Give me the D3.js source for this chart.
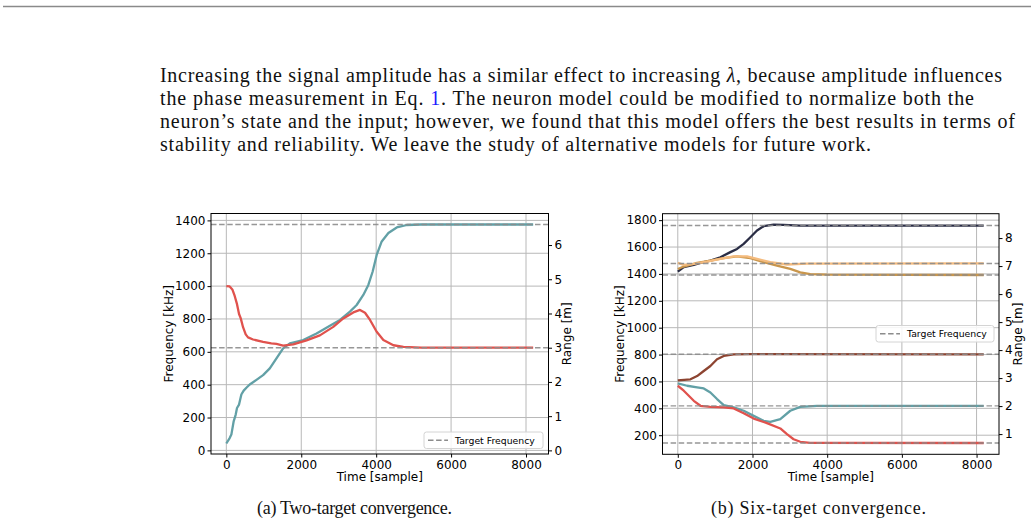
<!DOCTYPE html>
<html>
<head>
<meta charset="utf-8">
<script src="https://cdn.jsdelivr.net/npm/d3@7"></script>
<style>
  body { margin: 0; background: #fff; }
  svg text { font-family: "DejaVu Sans", sans-serif; }
  .prose { font-family: "Liberation Serif", serif; font-size: 20px; fill: #111; }
  .caption { font-family: "Liberation Serif", serif; font-size: 18px; fill: #111; }
  .axis path, .axis line { stroke: #000; }
  .axis text { font-size: 12px; fill: #000; font-family: "DejaVu Sans", sans-serif; }
</style>
</head>
<body>
<svg id="fig" width="1034" height="525"></svg>
<script>
// ---- data ----
var timeTicks = [0, 2000, 4000, 6000, 8000];
var freqTicksA = [0, 200, 400, 600, 800, 1000, 1200, 1400];
var rangeTicksA = [0, 1, 2, 3, 4, 5, 6];
var freqTicksB = [200, 400, 600, 800, 1000, 1200, 1400, 1600, 1800];
var rangeTicksB = [1, 2, 3, 4, 5, 6, 7, 8];

// two-target run, [sample, kHz]
var targetsA = [1375, 625];
var twoTeal = [[0,42],[89,75],[134,96],[196,177],[250,218],[285,258],[339,279],[401,340],[463,364],[535,381],[624,401],[713,415],[981,458],[1160,499],[1338,560],[1516,621],[1695,651],[2052,672],[2408,712],[2765,759],[3033,794],[3300,845],[3479,885],[3657,946],[3791,1007],[3907,1089],[4014,1190],[4148,1272],[4326,1323],[4549,1357],[4817,1372],[5200,1375],[8191,1375]];
var twoRed = [[0,1000],[89,998],[160,980],[223,940],[285,890],[339,830],[383,805],[446,750],[517,706],[579,688],[713,675],[981,661],[1200,652],[1338,648],[1516,638],[1784,645],[2141,670],[2497,700],[2854,752],[3122,803],[3389,840],[3568,855],[3702,838],[3836,794],[4014,722],[4192,672],[4460,640],[4728,630],[5200,626],[8191,625]];

// six-target run, [sample, kHz]
var targetsB = [1760, 1478, 1392, 802, 418, 142];
var sixNavy = [[0,1417],[160,1450],[428,1467],[606,1482],[873,1499],[1140,1524],[1408,1562],[1586,1586],[1764,1624],[1943,1673],[2121,1723],[2299,1755],[2566,1766],[2833,1765],[3279,1760],[8191,1760]];
var sixTan = [[0,1437],[160,1455],[517,1482],[873,1499],[1230,1517],[1586,1530],[1943,1517],[2299,1487],[2655,1462],[3012,1437],[3279,1412],[3547,1398],[3992,1394],[8191,1392]];
var sixOrange = [[0,1482],[160,1467],[428,1475],[784,1492],[1140,1512],[1497,1530],[1853,1530],[2121,1512],[2477,1487],[2923,1470],[3458,1477],[8191,1478]];
var sixBrown = [[0,608],[339,616],[517,640],[695,678],[873,715],[1051,765],[1230,790],[1497,802],[1943,804],[8191,802]];
var sixTeal = [[0,585],[250,568],[517,556],[695,548],[873,518],[1051,469],[1230,424],[1497,407],[1764,382],[2032,344],[2299,307],[2477,300],[2745,320],[3012,382],[3279,411],[3725,418],[8191,418]];
var sixRed = [[0,568],[160,531],[428,456],[606,419],[873,411],[1230,407],[1497,399],[1764,364],[2032,324],[2388,290],[2745,250],[2923,208],[3101,170],[3279,151],[3547,143],[8191,142]];

var kHzPerMetre = 625 / 3;

var svg = d3.select('#fig');

// top rule
svg.append('line').attr('x1', 3).attr('x2', 1031).attr('y1', 6.5).attr('y2', 6.5)
    .attr('stroke', '#8a8a8a').attr('stroke-width', 1.4);

// paragraph
var proseLines = [
  {y: 82, w: 842, parts: [['Increasing the signal amplitude has a similar effect to increasing '], ['λ', 'italic'], [', because amplitude influences']]},
  {y: 105, w: 814, parts: [['the phase measurement in Eq. '], ['1', 'blue'], ['. The neuron model could be modified to normalize both the']]},
  {y: 128, w: 855, parts: [['neuron’s state and the input; however, we found that this model offers the best results in terms of']]},
  {y: 151, w: 711, parts: [['stability and reliability. We leave the study of alternative models for future work.']]}
];
proseLines.forEach(function(l) {
    var t = svg.append('text').attr('class', 'prose')
        .attr('x', 160).attr('y', l.y)
        .attr('textLength', l.w).attr('lengthAdjust', 'spacing');
    l.parts.forEach(function(p) {
        var s = t.append('tspan').text(p[0]);
        if (p[1] === 'italic') s.style('font-style', 'italic');
        if (p[1] === 'blue') s.style('fill', '#1a1aff');
    });
});

// captions
svg.append('text').attr('class', 'caption').attr('x', 257).attr('y', 514)
    .attr('textLength', 195).attr('lengthAdjust', 'spacing').text('(a) Two-target convergence.');
svg.append('text').attr('class', 'caption').attr('x', 711).attr('y', 514)
    .attr('textLength', 215).attr('lengthAdjust', 'spacing').text('(b) Six-target convergence.');

function drawPanel(cfg) {
    var x = d3.scaleLinear().domain([-409.55, 8600.55]).range([cfg.left, cfg.right]);
    var y = d3.scaleLinear().domain(cfg.yDomain).range([cfg.bottom, cfg.top]);
    var y2 = d3.scaleLinear().domain(cfg.yDomain.map(function(v) { return v / kHzPerMetre; }))
        .range([cfg.bottom, cfg.top]);

    var g = svg.append('g');

    // grid
    g.selectAll('.vgrid').data(timeTicks).enter().append('line')
        .attr('x1', d => x(d)).attr('x2', d => x(d))
        .attr('y1', cfg.top).attr('y2', cfg.bottom)
        .attr('stroke', '#b8b8b8').attr('stroke-width', 1);
    g.selectAll('.hgrid').data(cfg.freqTicks).enter().append('line')
        .attr('x1', cfg.left).attr('x2', cfg.right)
        .attr('y1', d => y(d)).attr('y2', d => y(d))
        .attr('stroke', '#b8b8b8').attr('stroke-width', 1);

    // data lines
    var line = d3.line().x(d => x(d[0])).y(d => y(d[1]));
    cfg.series.forEach(function(s) {
        g.append('path').datum(s.data).attr('d', line)
            .attr('fill', 'none').attr('stroke', s.color)
            .attr('stroke-width', 2.3).attr('stroke-linejoin', 'round');
    });

    // target lines
    g.selectAll('.target').data(cfg.targets).enter().append('line')
        .attr('x1', cfg.left).attr('x2', cfg.right)
        .attr('y1', d => y(d)).attr('y2', d => y(d))
        .attr('stroke', '#8c8c8c').attr('stroke-width', 1.4)
        .attr('stroke-dasharray', '5.5,2.6').attr('opacity', 0.9);

    // axes
    var fmt = d3.format('d');
    g.append('g').attr('class', 'axis')
        .attr('transform', 'translate(0,' + cfg.bottom + ')')
        .call(d3.axisBottom(x).tickValues(timeTicks).tickFormat(fmt).tickSize(3.5).tickPadding(2.5));
    g.append('g').attr('class', 'axis')
        .attr('transform', 'translate(' + cfg.left + ',0)')
        .call(d3.axisLeft(y).tickValues(cfg.freqTicks).tickFormat(fmt).tickSize(3.5).tickPadding(2));
    g.append('g').attr('class', 'axis')
        .attr('transform', 'translate(' + cfg.right + ',0)')
        .call(d3.axisRight(y2).tickValues(cfg.rangeTicks).tickFormat(fmt).tickSize(3.5).tickPadding(2.5));
    g.selectAll('.axis .domain').remove();

    // frame
    g.append('rect').attr('x', cfg.left).attr('y', cfg.top)
        .attr('width', cfg.right - cfg.left).attr('height', cfg.bottom - cfg.top)
        .attr('fill', 'none').attr('stroke', '#000').attr('stroke-width', 1);

    // labels
    g.append('text').attr('x', (cfg.left + cfg.right) / 2).attr('y', cfg.bottom + 27)
        .attr('text-anchor', 'middle').style('font-size', '12px').text('Time [sample]');
    g.append('text')
        .attr('transform', 'translate(' + (cfg.left - 38.5) + ',' + (cfg.top + cfg.bottom) / 2 + ')rotate(-90)')
        .attr('text-anchor', 'middle').style('font-size', '12px').text('Frequency [kHz]');
    g.append('text')
        .attr('transform', 'translate(' + (cfg.right + 22.5) + ',' + (cfg.top + cfg.bottom) / 2 + ')rotate(-90)')
        .attr('text-anchor', 'middle').style('font-size', '12px').text('Range [m]');

    // legend
    var lg = cfg.legend;
    g.append('rect').attr('x', lg.x).attr('y', lg.y).attr('width', lg.w).attr('height', lg.h)
        .attr('rx', 2.5).attr('fill', '#fff').attr('fill-opacity', 0.85)
        .attr('stroke', '#d4d4d4').attr('stroke-width', 1);
    g.append('line').attr('x1', lg.x + 4).attr('x2', lg.x + 24)
        .attr('y1', lg.y + lg.h / 2).attr('y2', lg.y + lg.h / 2)
        .attr('stroke', '#8c8c8c').attr('stroke-width', 1.4).attr('stroke-dasharray', '5.5,2.6');
    g.append('text').attr('x', lg.x + 31).attr('y', lg.y + lg.h / 2 + 3.3)
        .style('font-size', '9.3px').text('Target Frequency');
}

drawPanel({
    left: 211, right: 548.5, top: 213.5, bottom: 454,
    yDomain: [-22, 1442],
    freqTicks: freqTicksA, rangeTicks: rangeTicksA,
    targets: targetsA,
    series: [{data: twoTeal, color: '#62a0a6'}, {data: twoRed, color: '#e0524d'}],
    legend: {x: 424, y: 432, w: 119, h: 16.5}
});

drawPanel({
    left: 662.5, right: 999, top: 213.7, bottom: 454.3,
    yDomain: [58, 1848],
    freqTicks: freqTicksB, rangeTicks: rangeTicksB,
    targets: targetsB,
    series: [
        {data: sixNavy, color: '#2a2d45'},
        {data: sixTan, color: '#c9964c'},
        {data: sixOrange, color: '#f4bb7e'},
        {data: sixBrown, color: '#8d4431'},
        {data: sixTeal, color: '#62a0a6'},
        {data: sixRed, color: '#e0524d'}
    ],
    legend: {x: 876, y: 325.5, w: 118, h: 16.5}
});
</script>
</body>
</html>
